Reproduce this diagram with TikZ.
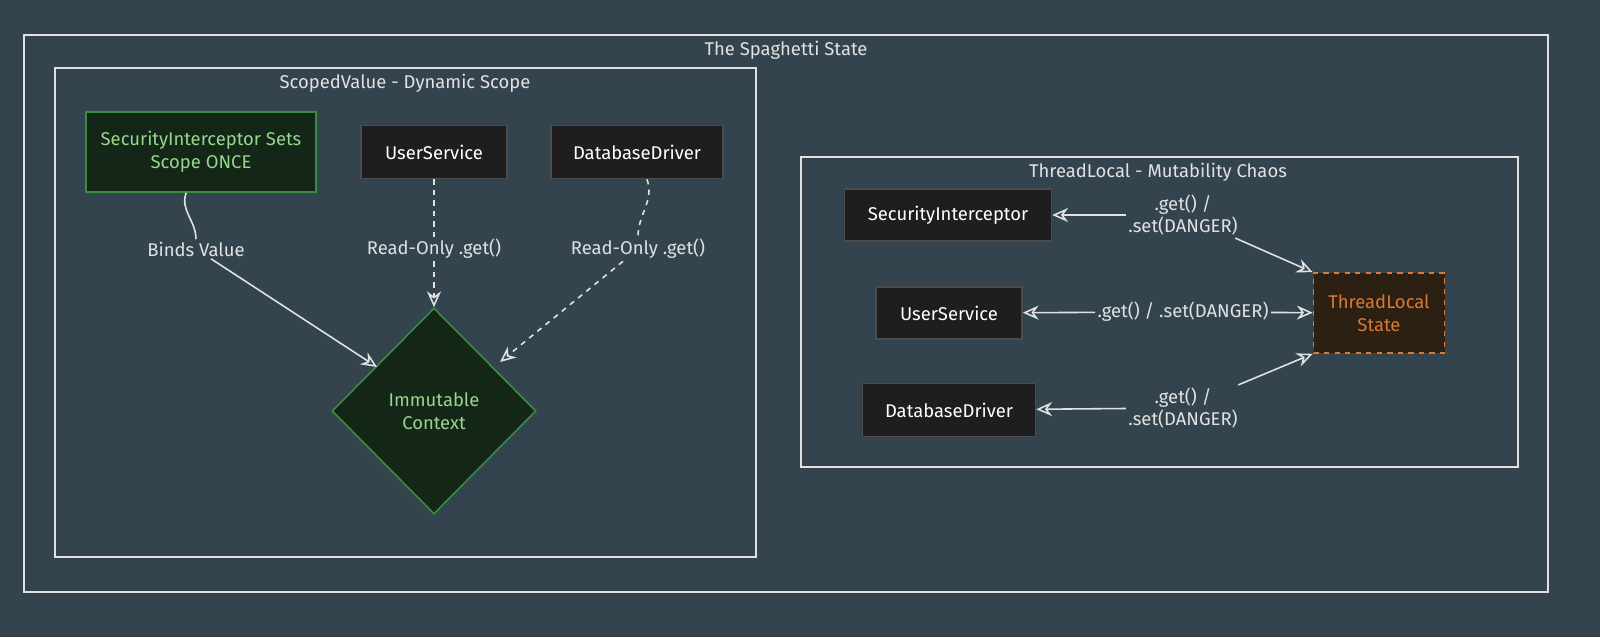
\documentclass[tikz,border=0pt]{standalone}
\usepackage{fontspec}
\setmainfont{Fira Sans}
\usetikzlibrary{shapes.geometric,arrows.meta}
\definecolor{bgcol}{RGB}{52,68,78}
\definecolor{framecol}{RGB}{225,225,225}
\definecolor{boxfill}{RGB}{30,30,32}
\definecolor{greenfill}{RGB}{20,38,24}
\definecolor{greenline}{RGB}{60,140,64}
\definecolor{greentext}{RGB}{150,215,140}
\definecolor{orfill}{RGB}{44,32,18}
\definecolor{orline}{RGB}{220,120,50}
\begin{document}
\begin{tikzpicture}[x=0.02cm,y=-0.02cm,font=\fontsize{10.5}{13}\selectfont,
  >={Stealth[open,length=9pt,width=8pt]},line width=0.9pt]
  \tikzstyle{frame}=[draw=framecol,line width=0.8pt]
  \tikzstyle{title}=[text=framecol]
  \tikzstyle{svc}=[draw=gray!60!black,fill=boxfill,text=white,inner sep=0pt]
  \tikzstyle{lab}=[text=framecol,fill=bgcol,align=center,inner sep=1pt]
  \tikzstyle{link}=[draw=framecol,->]
  \useasboundingbox (0,0) rectangle (1600,637);
  \fill[bgcol] (0,0) rectangle (1600,637);
  % frames
  \draw[frame] (24,35) rectangle (1548,592);
  \node[title] (main) at (786,50) {The Spaghetti State};
  \draw[frame] (55,68) rectangle (756,557);
  \node[title] (scoped) at (405,83) {ScopedValue - Dynamic Scope};
  \draw[frame] (801,157) rectangle (1518,467);
  \node[title] (thread) at (1158,172) {ThreadLocal - Mutability Chaos};
  % scoped side
  \node[svc,draw=greenline,fill=greenfill,text=greentext,align=center,
    minimum width=230*0.02cm,minimum height=80*0.02cm] (sis) at (201,152)
    {SecurityInterceptor Sets\\Scope ONCE};
  \node[svc,minimum width=146*0.02cm,minimum height=53*0.02cm] (us1) at (434,152) {UserService};
  \node[svc,minimum width=172*0.02cm,minimum height=53*0.02cm] (dd1) at (637,152) {DatabaseDriver};
  \node[diamond,draw=greenline,fill=greenfill,text=greentext,align=center,
    minimum width=204*0.02cm,minimum height=206*0.02cm,inner sep=0pt] (ctx) at (434,411)
    {Immutable\\Context};
  \node[lab] (bind) at (196,249) {Binds Value};
  \node[lab] (ro1) at (434,249) {Read-Only .get()};
  \node[lab] (ro2) at (638,249) {Read-Only .get()};
  \draw[framecol] (sis) to[out=-110,in=90] (bind);
  \draw[link] (bind) -- (377,367);
  \draw[framecol,dashed] (us1) -- (ro1);
  \draw[link,dashed] (ro1) -- (ctx.north);
  \draw[framecol,dashed] (dd1) to[out=-70,in=90] (ro2);
  \draw[link,dashed] (ro2) -- (500,362);
  % thread side
  \node[svc,minimum width=207*0.02cm,minimum height=52*0.02cm] (si) at (948,215) {SecurityInterceptor};
  \node[svc,minimum width=146*0.02cm,minimum height=52*0.02cm] (us2) at (949,313) {UserService};
  \node[svc,minimum width=173*0.02cm,minimum height=53*0.02cm] (dd2) at (949,410) {DatabaseDriver};
  \node[svc,draw=orline,dashed,fill=orfill,text=orline,align=center,
    minimum width=131*0.02cm,minimum height=80*0.02cm] (tl) at (1379,313) {ThreadLocal\\State};
  \node[lab] (g1) at (1183,215) {.get() /\\.set(DANGER)};
  \node[lab] (g2) at (1183,312) {.get() / .set(DANGER)};
  \node[lab] (g3) at (1183,408) {.get() /\\.set(DANGER)};
  \draw[link] (g1) -- (si);
  \draw[link] (g1) -- (tl.north west);
  \draw[link] (g2) -- (us2);
  \draw[link] (g2) -- (tl);
  \draw[link] (g3) -- (dd2);
  \draw[link] (g3) -- (tl.south west);
\end{tikzpicture}
\end{document}
